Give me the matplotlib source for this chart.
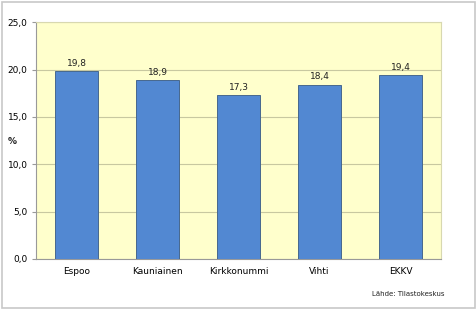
import matplotlib
matplotlib.use("Agg")
import matplotlib.pyplot as plt
from matplotlib.patches import Rectangle

# data
kunnat = ['Espoo', 'Kauniainen', 'Kirkkonummi', 'Vihti', 'EKKV']
osuus = [19.8, 18.9, 17.3, 18.4, 19.4]
yticks = [0, 5, 10, 15, 20, 25]

fig = plt.figure(figsize=(4.77, 3.12), dpi=100)
ax = fig.add_axes([0.0755, 0.170, 0.849, 0.759])
ax.set_facecolor('#FFFFCC')

x = range(len(kunnat))
ax.bar(x, osuus, width=0.52, color='#5288D2', edgecolor='#46688E', linewidth=0.7, zorder=3)
for i, v in zip(x, osuus):
    ax.text(i, v + 0.35, f'{v:.1f}'.replace('.', ','), ha='center', va='bottom', fontsize=6.5, color='#222222')

ax.set_xlim(-0.5, len(kunnat) - 0.5)
ax.set_ylim(0, 25)
ax.set_yticks(yticks)
ax.set_yticklabels([f'{t:.1f}'.replace('.', ',') for t in yticks], fontsize=6.5)
ax.set_xticks(list(x))
ax.set_xticklabels(kunnat, fontsize=6.5)
ax.tick_params(axis='x', length=0, pad=6)
ax.tick_params(axis='y', length=3, color='#999999', pad=3)
ax.yaxis.grid(True, color='#C8C8A0', linewidth=0.8, zorder=0)

fig.text(0.017, 0.548, '%', fontsize=6.5, fontweight='bold', ha='left', va='center', color='#222222')

for side in ['top', 'right']:
    ax.spines[side].set_color('#D8D8B0')
for side in ['left', 'bottom']:
    ax.spines[side].set_color('#999999')

fig.text(0.855, 0.052, 'Lähde: Tilastokeskus', fontsize=5, ha='center', color='#222222')

# outer chart frame
fig.patches.append(Rectangle((0.004, 0.012), 0.992, 0.98, transform=fig.transFigure,
                             fill=False, edgecolor='#C8C8C8', linewidth=1.2))

fig.savefig('out.png', dpi=100)
